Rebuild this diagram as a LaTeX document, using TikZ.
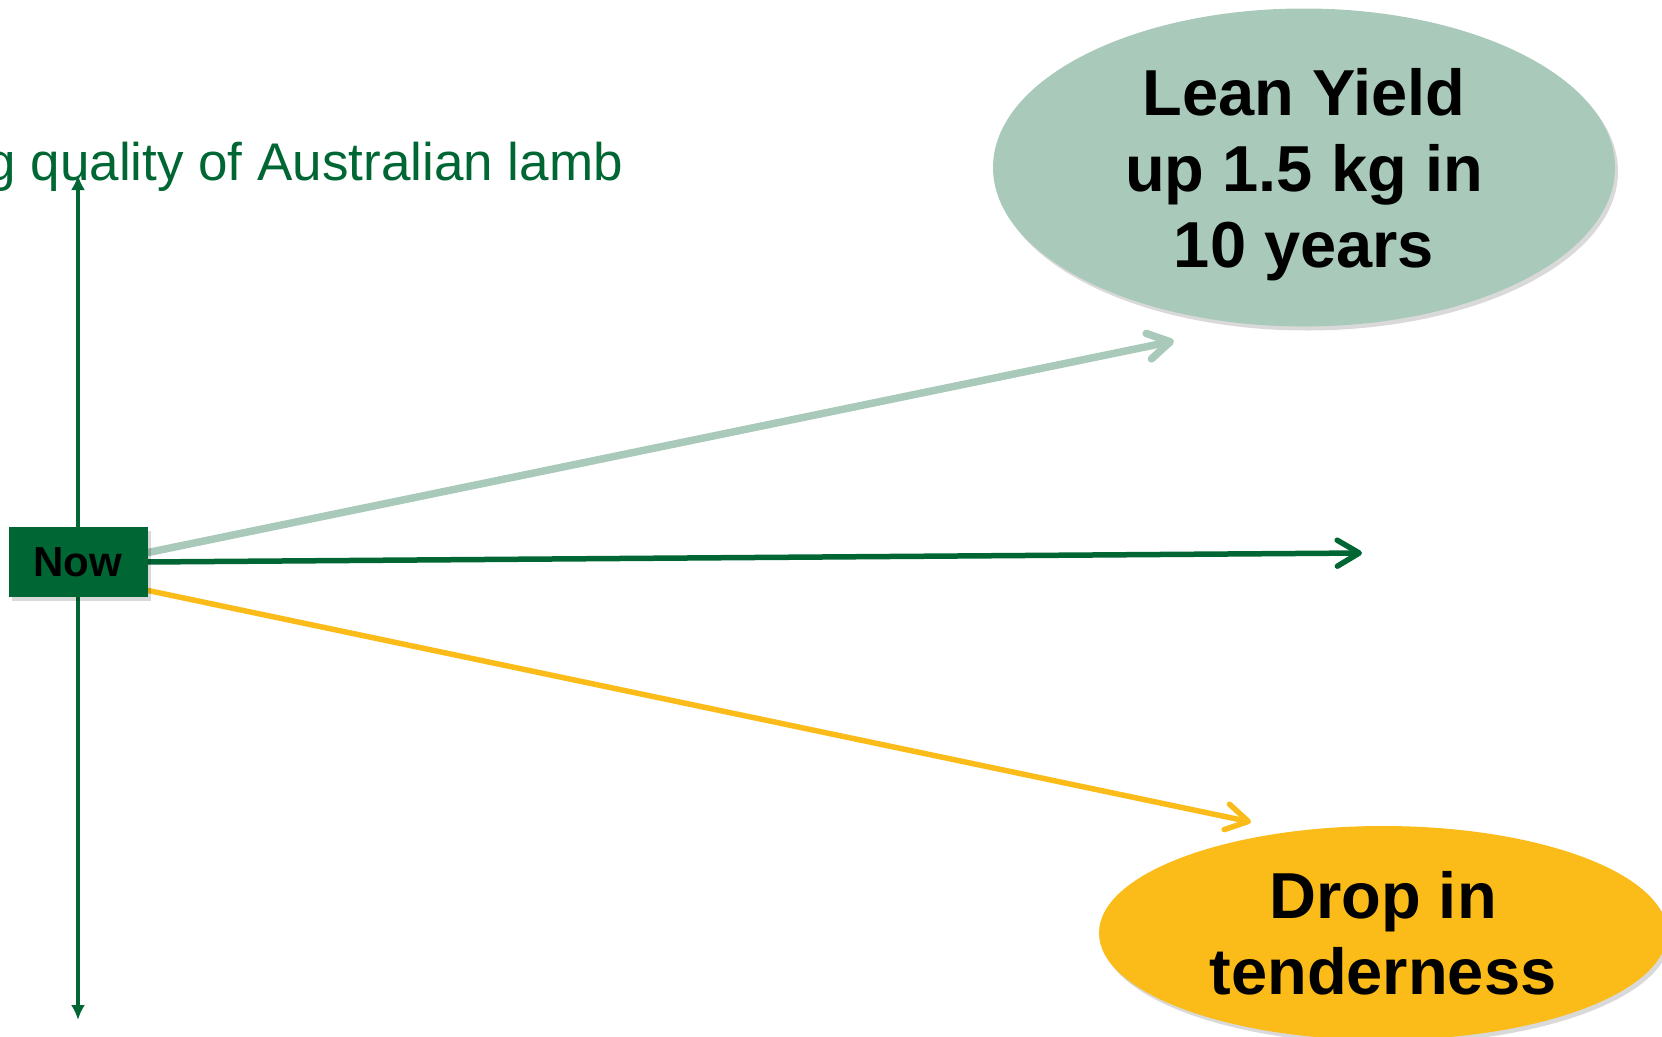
\documentclass[tikz,border=0pt]{standalone}
\usepackage{fontspec}
\setmainfont{Liberation Sans}
\usetikzlibrary{arrows.meta,shapes.geometric,shadows,calc,backgrounds}
\definecolor{mlagreen}{RGB}{0,102,51}
\definecolor{mlalight}{RGB}{169,202,187}
\definecolor{mlayellow}{RGB}{251,187,24}
\tikzset{
  softshadow/.style={drop shadow={shadow xshift=3pt,shadow yshift=-4pt,opacity=0.15,fill=black}},
  bubble/.style={ellipse,inner sep=0pt,align=center,text=black,
    font=\fontsize{65}{76}\selectfont\bfseries,softshadow},
  nowbox/.style={rectangle,fill=mlagreen,minimum width=139pt,minimum height=70pt,
    inner sep=0pt,font=\fontsize{42}{46}\selectfont\bfseries,text=black,softshadow},
  barb/.style={-{Straight Barb[length=22pt,width=26pt,round]},line cap=round},
  axisline/.style={draw=mlagreen,line width=4pt,{Latex[length=15pt,width=14pt]}-{Latex[length=15pt,width=14pt]}},
}
\begin{document}
\begin{tikzpicture}[x=1pt,y=-1pt]
\useasboundingbox (0,0) rectangle (1662,1036);
\clip (0,0) rectangle (1662,1036);
% axis
\coordinate (axtop) at (78,175);
\coordinate (axbot) at (78,1020);
\draw[axisline] (axbot) -- (axtop);
% title
\node[anchor=base east,inner sep=0pt,text=mlagreen,font=\fontsize{53}{60}\selectfont] (title) at (623,180) {g quality of Australian lamb};
% ellipses
\node[bubble,fill=mlalight,minimum width=622pt,minimum height=318pt] (lean) at (1304,167.5) {\raisebox{-15.5pt}[0pt][0pt]{\begin{tabular}{@{}c@{}}Lean Yield\\up 1.5 kg in\\10 years\end{tabular}}};
\node[bubble,fill=mlayellow,minimum width=568pt,minimum height=214pt] (drop) at (1383,933) {Drop in\\tenderness};
% now box
\node[nowbox] (now) at (78,562) {Now};
% arrow ends
\coordinate (leanend) at (1174,341);
\coordinate (midend) at (1362,553);
\coordinate (dropend) at (1251,822);
\begin{scope}[on background layer]
\draw[barb,draw=mlalight,line width=7.5pt] ($(now.east)+(-2,-9)$) -- (leanend);
\draw[barb,draw=mlagreen,line width=5.5pt] ($(now.east)+(-2,0)$) -- (midend);
\draw[barb,draw=mlayellow,line width=5.5pt] ($(now.east)+(-2,28)$) -- (dropend);
\end{scope}
\end{tikzpicture}
\end{document}
